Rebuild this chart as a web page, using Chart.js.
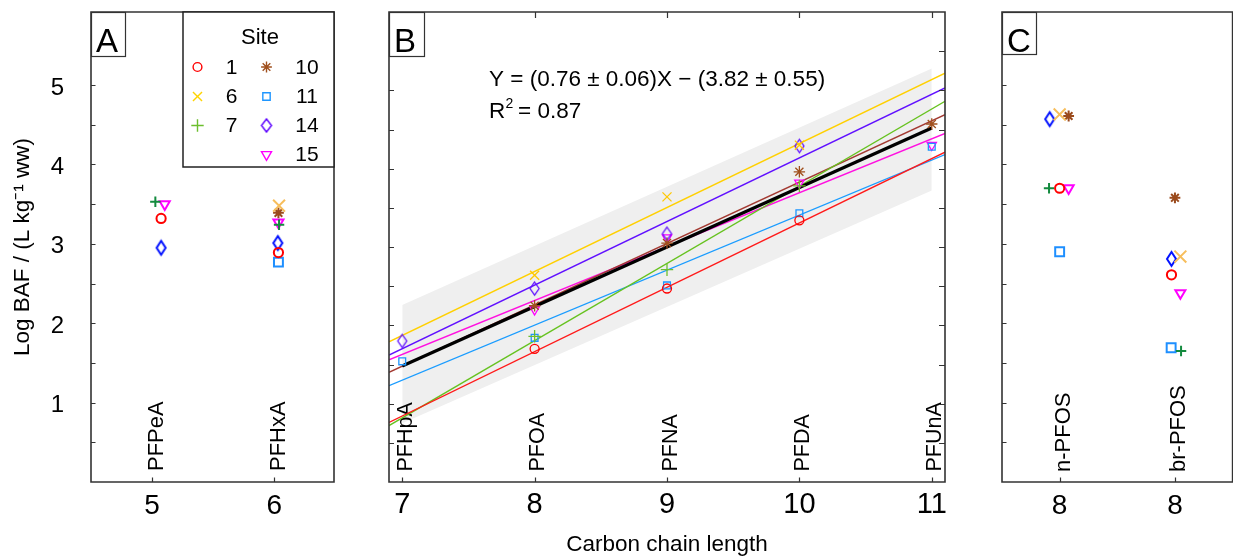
<!DOCTYPE html>
<html>
<head>
<meta charset="utf-8">
<title>Log BAF vs carbon chain length</title>
<script src="https://cdn.jsdelivr.net/npm/chart.js@4/dist/chart.umd.min.js"></script>
<style>
  html, body { margin:0; padding:0; background:#fff; }
  body { position:relative; width:1233px; height:558px; overflow:hidden; }
  canvas { position:absolute; top:0; display:block; }
  #chartA { left:0; }
  #chartB { left:345px; }
  #chartC { left:990px; }
</style>
</head>
<body>
<canvas id="chartA" width="345" height="558"></canvas>
<canvas id="chartB" width="615" height="558"></canvas>
<canvas id="chartC" width="253" height="558"></canvas>
<script>
// ================= DATA =================
const siteLabels = ['1', '6', '7', '10', '11', '14', '15'];
const yTickLabelValues = [1, 2, 3, 4, 5];
const yMinorTickValues = [0.5, 1, 1.5, 2, 2.5, 3, 3.5, 4, 4.5, 5, 5.5];
const yTitle = 'Log BAF / (L kg⁻¹ ww)';

// Panel A: short-chain PFCAs (values per site, in siteLabels order; null = not shown)
const aTickValues = [5, 6];
const aTickLabels = ['5', '6'];
const aCompounds = ['PFPeA', 'PFHxA'];
const aPFPeA_y = [3.32, null, 3.53, null, null, 2.95, 3.50];
const aPFPeA_x = [5.074, null, 5.027, null, null, 5.074, 5.104];
const aPFHxA_y = [2.89, 3.48, 3.24, 3.39, 2.77, 3.01, 3.27];
const aPFHxA_x = [6.035, 6.04, 6.04, 6.035, 6.035, 6.03, 6.035];

// Panel B: long-chain PFCAs (values per compound, in bTickValues order)
const bTickValues = [7, 8, 9, 10, 11];
const bTickLabels = ['7', '8', '9', '10', '11'];
const bCompounds = ['PFHpA', 'PFOA', 'PFNA', 'PFDA', 'PFUnA'];
const bSite1  = [null, 1.70, 2.47, 3.34, null];
const bSite6  = [null, 2.64, 3.64, 4.30, null];
const bSite7  = [null, 1.86, 2.71, 3.78, null];
const bSite10 = [null, 2.25, 3.05, 3.96, 4.57];
const bSite11 = [1.54, 1.84, 2.51, 3.43, 4.28];
const bSite14 = [1.80, 2.47, 3.17, 4.29, null];
const bSite15 = [null, 2.20, 3.12, 3.82, 4.30];
// per-site regression lines: values at x = bLineX[0] and x = bLineX[1]
const bLineX  = [6.9, 11.1];
const bLine1  = [0.76, 4.21];
const bLine6  = [1.79, 5.22];
const bLine7  = [0.72, 4.86];
const bLine10 = [1.40, 4.69];
const bLine11 = [1.23, 4.18];
const bLine14 = [1.62, 5.03];
const bLine15 = [1.56, 4.45];
// pooled regression and its band
const bPooledX   = [7, 11];
const bPooledFit = [1.48, 4.52];
const bBandLow   = [0.75, 3.72];
const bBandHigh  = [2.26, 5.28];
const bEquation  = 'Y = (0.76 ± 0.06)X − (3.82 ± 0.55)';
const bR2        = '0.87';
const xTitleB    = 'Carbon chain length';

// Panel C: PFOS isomers (values per site, in siteLabels order)
const cTickValues = [0, 1];
const cTickLabels = ['8', '8'];
const cCompounds = ['n-PFOS', 'br-PFOS'];
const cN_y  = [3.70, 4.63, 3.70, 4.61, 2.90, 4.57, 3.70];
const cN_x  = [0, 0, -0.092, 0.078, 0, -0.086, 0.078];
const cBr_y = [2.61, 2.84, 1.65, 3.58, 1.69, 2.81, 2.38];
const cBr_x = [0.97, 1.047, 1.053, 1.0, 0.967, 0.97, 1.047];

// ================= STYLE =================
const FONT = "'Liberation Sans', Arial, Helvetica, sans-serif";
const NARROW = "'Liberation Sans Narrow', 'Liberation Sans', Arial, sans-serif";
Chart.defaults.font.family = FONT;
Chart.defaults.color = '#000';
Chart.defaults.animation = false;

const legendColors = ['#ff0000', '#ffd400', '#6cbf2e', '#a0501e', '#1e96ff', '#5b00ff', '#ff00ff'];
const bPointColors = ['#ff0000', '#ffc800', '#6cbf2e', '#a0501e', '#1e96ff', '#6010ff', '#ff00ff'];
const bLineColors  = ['#ff1a1a', '#ffd000', '#66c21f', '#a33a32', '#1a9cff', '#6010ff', '#ff10e0'];
const acColors     = ['#ff0000', '#f7be5c', '#138a3e', '#9a4a1c', '#1e8fff', '#0010ff', '#ff00ff'];
const shapes = ['circle', 'crossRot', 'cross', 'star', 'rect', 'diamond', 'triangle'];

function diamondImg(w, h, color, lw) {
  const c = document.createElement('canvas');
  const pad = Math.ceil(lw) + 1;
  c.width = Math.round(w + 2 * pad); c.height = Math.round(h + 2 * pad);
  const g = c.getContext('2d');
  g.strokeStyle = color; g.lineWidth = lw; g.lineJoin = 'miter';
  g.beginPath();
  g.moveTo(c.width / 2, pad); g.lineTo(c.width - pad, c.height / 2);
  g.lineTo(c.width / 2, c.height - pad); g.lineTo(pad, c.height / 2);
  g.closePath(); g.stroke();
  return c;
}

const sizeAC = {circle: 4.6, crossRot: 8.4, cross: 5.2, star: 5.4, rect: 6.3, diamond: [9, 14], triangle: 5.8, bw: 2};
const sizeB  = {circle: 4.5, crossRot: 6.4, cross: 6.2, star: 5.7, rect: 4.8, diamond: [9, 13], triangle: 5.4, bw: 1.3};
const sizeL  = {circle: 4.4, crossRot: 6.4, cross: 6.2, star: 5.4, rect: 5.2, diamond: [9.5, 13], triangle: 5.8, bw: 1.4};

function marker(i, color, sz) {
  const s = shapes[i];
  if (s === 'diamond') return {style: diamondImg(sz.diamond[0], sz.diamond[1], color, sz.bw), r: 6, rot: 0, color, bw: sz.bw};
  if (s === 'triangle') return {style: 'triangle', r: sz.triangle, rot: 180, color, bw: sz.bw};
  return {style: s, r: sz[s], rot: 0, color, bw: sz.bw};
}

function pointDataset(xs, ys, m) {
  const data = [];
  xs.forEach((x, k) => { if (x != null && ys[k] != null) data.push({x: x, y: ys[k]}); });
  return {
    type: 'scatter', data, showLine: false,
    pointStyle: m.style, pointRadius: m.r, pointHoverRadius: m.r, pointRotation: m.rot,
    pointBorderColor: m.color, borderColor: m.color, pointBackgroundColor: 'rgba(0,0,0,0)',
    backgroundColor: 'rgba(0,0,0,0)', pointBorderWidth: m.bw, borderWidth: m.bw, order: 0
  };
}

function lineDataset(xs, ys, color, width, order, extra) {
  return Object.assign({
    type: 'line', data: [{x: xs[0], y: ys[0]}, {x: xs[1], y: ys[1]}],
    borderColor: color, borderWidth: width, pointRadius: 0, pointHoverRadius: 0,
    fill: false, tension: 0, order: order
  }, extra || {});
}

// ---------- drawing helpers (all positions from the chart's scales) ----------
function drawFrame(ctx, a, sides) {
  ctx.save(); ctx.strokeStyle = '#333'; ctx.lineWidth = 1.6; ctx.lineCap = 'square';
  ctx.beginPath();
  if (sides.includes('l')) { ctx.moveTo(a.left, a.top); ctx.lineTo(a.left, a.bottom); }
  if (sides.includes('r')) { ctx.moveTo(a.right, a.top); ctx.lineTo(a.right, a.bottom); }
  if (sides.includes('t')) { ctx.moveTo(a.left, a.top); ctx.lineTo(a.right, a.top); }
  if (sides.includes('b')) { ctx.moveTo(a.left, a.bottom); ctx.lineTo(a.right, a.bottom); }
  ctx.stroke(); ctx.restore();
}
function drawYTicks(chart, values, side, len) {
  const ctx = chart.ctx, ys = chart.scales.y, a = chart.chartArea;
  ctx.save(); ctx.strokeStyle = '#333'; ctx.lineWidth = 1.2; ctx.beginPath();
  values.forEach(v => {
    const y = Math.round(ys.getPixelForValue(v)) + 0.5;
    if (side === 'l') { ctx.moveTo(a.left, y); ctx.lineTo(a.left + len, y); }
    else { ctx.moveTo(a.right, y); ctx.lineTo(a.right - len, y); }
  });
  ctx.stroke(); ctx.restore();
}
function drawXTicks(chart, values, side, len) {
  const ctx = chart.ctx, xs = chart.scales.x, a = chart.chartArea;
  ctx.save(); ctx.strokeStyle = '#333'; ctx.lineWidth = 1.2; ctx.beginPath();
  values.forEach(v => {
    const x = Math.round(xs.getPixelForValue(v)) + 0.5;
    if (side === 'b') { ctx.moveTo(x, a.bottom); ctx.lineTo(x, a.bottom - len); }
    else { ctx.moveTo(x, a.top); ctx.lineTo(x, a.top + len); }
  });
  ctx.stroke(); ctx.restore();
}
function drawVLabels(chart, values, labels, size, dx, bottomY) {
  const ctx = chart.ctx, xs = chart.scales.x;
  ctx.save(); ctx.fillStyle = '#000'; ctx.font = size + 'px ' + FONT;
  ctx.textAlign = 'left'; ctx.textBaseline = 'alphabetic';
  values.forEach((v, i) => {
    ctx.save();
    ctx.translate(xs.getPixelForValue(v) + dx, bottomY);
    ctx.rotate(-Math.PI / 2);
    ctx.fillText(labels[i], 0, 0);
    ctx.restore();
  });
  ctx.restore();
}
function drawTag(ctx, letter, x0, y0, w, h) {
  ctx.save();
  ctx.fillStyle = '#fff'; ctx.fillRect(x0, y0, w, h);
  ctx.strokeStyle = '#333'; ctx.lineWidth = 1.2; ctx.strokeRect(x0 + 0.5, y0 + 0.5, w, h);
  ctx.fillStyle = '#000'; ctx.font = '33px ' + FONT; ctx.textBaseline = 'alphabetic'; ctx.textAlign = 'left';
  ctx.fillText(letter, x0 + 5, y0 + 39.5);
  ctx.restore();
}
function drawMarker(ctx, m, x, y) {
  ctx.save();
  ctx.strokeStyle = m.color; ctx.fillStyle = 'rgba(0,0,0,0)'; ctx.lineWidth = m.bw;
  Chart.helpers.drawPoint(ctx, {pointStyle: m.style, radius: m.r, rotation: m.rot, borderWidth: m.bw}, x, y);
  ctx.restore();
}

function axisX(min, max, tickValues, tickLabels, font, pad, title) {
  const o = {
    type: 'linear', min, max,
    afterBuildTicks: s => { s.ticks = tickValues.map(v => ({value: v})); },
    ticks: {autoSkip: false, maxRotation: 0, minRotation: 0, padding: pad, font: font, color: '#000',
            callback: (v, i) => tickLabels[i]},
    grid: {display: false, drawTicks: false}, border: {display: false},
    afterFit: s => { s.height = 76; s.paddingLeft = 0; s.paddingRight = 0; s.paddingTop = 0; s.paddingBottom = 0; }
  };
  if (title) o.title = {display: true, text: title, font: {size: 22.5}, color: '#000', padding: {top: 0, bottom: 0}};
  return o;
}

const commonPlugins = {legend: {display: false}, tooltip: {enabled: false}};

// ================= PANEL A =================
const aDatasets = [];
siteLabels.forEach((s, i) => {
  const m = marker(i, acColors[i], sizeAC);
  aDatasets.push(pointDataset([aPFPeA_x[i], aPFHxA_x[i]], [aPFPeA_y[i], aPFHxA_y[i]], m));
});

const decoA = {
  id: 'decoA',
  beforeDatasetsDraw(chart) { drawVLabels(chart, aTickValues, aCompounds, 22, 10.5, 471); },
  afterDraw(chart) {
    const ctx = chart.ctx, a = chart.chartArea;
    drawYTicks(chart, yMinorTickValues, 'l', 4.5);
    drawXTicks(chart, aTickValues, 'b', 4.5);
    drawFrame(ctx, a, 'lrtb');
    drawTag(ctx, 'A', a.left, a.top, 34, 44);
    // legend
    const lx0 = 183, ly0 = a.top, lx1 = a.right, ly1 = 167;
    ctx.save();
    ctx.fillStyle = '#fff'; ctx.fillRect(lx0, ly0, lx1 - lx0, ly1 - ly0);
    ctx.strokeStyle = '#222'; ctx.lineWidth = 1.5; ctx.strokeRect(lx0, ly0, lx1 - lx0, ly1 - ly0);
    ctx.fillStyle = '#000'; ctx.font = '22px ' + FONT; ctx.textAlign = 'center'; ctx.textBaseline = 'alphabetic';
    ctx.fillText('Site', 260, 44);
    const rows = [67, 96.5, 125.5, 154.5];
    const slots = [[0, 0], [0, 1], [0, 2], [1, 0], [1, 1], [1, 2], [1, 3]];
    ctx.font = '21px ' + FONT; ctx.textBaseline = 'middle';
    siteLabels.forEach((s, i) => {
      const [col, row] = slots[i];
      const mx = col === 0 ? 197.5 : 266.5;
      const tx = col === 0 ? 231.5 : 307;
      drawMarker(ctx, marker(i, legendColors[i], sizeL), mx, rows[row]);
      ctx.fillStyle = '#000';
      ctx.fillText(s, tx, rows[row] + 1);
    });
    ctx.restore();
  }
};

new Chart(document.getElementById('chartA'), {
  type: 'scatter',
  data: {datasets: aDatasets},
  options: {
    responsive: false, devicePixelRatio: 1, animation: false,
    layout: {padding: {top: 12, right: 11, left: 0, bottom: 0}},
    plugins: commonPlugins,
    scales: {
      x: axisX(4.5, 6.49, aTickValues, aTickLabels, {size: 28}, 7.5),
      y: {
        type: 'linear', min: 0, max: 5.92,
        afterBuildTicks: s => { s.ticks = yTickLabelValues.map(v => ({value: v})); },
        ticks: {autoSkip: false, padding: 27, labelOffset: 3, font: {size: 24}, color: '#000', callback: v => String(v)},
        grid: {display: false, drawTicks: false}, border: {display: false},
        title: {display: true, text: yTitle, font: {size: 22.5}, color: '#000', padding: {top: 9.5, bottom: 0}},
        afterFit: s => { s.width = 91; s.paddingTop = 0; s.paddingBottom = 0; s.paddingLeft = 0; s.paddingRight = 0; }
      }
    }
  },
  plugins: [decoA]
});

// ================= PANEL B =================
const bSites = [bSite1, bSite6, bSite7, bSite10, bSite11, bSite14, bSite15];
const bLines = [bLine1, bLine6, bLine7, bLine10, bLine11, bLine14, bLine15];
const bDatasets = [];
siteLabels.forEach((s, i) => {
  bDatasets.push(pointDataset(bTickValues, bSites[i], marker(i, bPointColors[i], sizeB)));
});
bDatasets.push(lineDataset(bPooledX, bPooledFit, '#000', 3.2, 1));
siteLabels.forEach((s, i) => {
  bDatasets.push(lineDataset(bLineX, bLines[i], bLineColors[i], 1.4, 2));
});
const bandLowIndex = bDatasets.length;
bDatasets.push(lineDataset(bPooledX, bBandLow, 'rgba(0,0,0,0)', 0, 4));
const bandHighIndex = bDatasets.length;
bDatasets.push(lineDataset(bPooledX, bBandHigh, 'rgba(0,0,0,0)', 0, 3,
  {fill: {target: bandLowIndex}, backgroundColor: '#efefef'}));

const decoB = {
  id: 'decoB',
  afterDatasetDraw(chart, args) {
    if (args.index === bandHighIndex) drawVLabels(chart, bTickValues, bCompounds, 21.5, 9.5, 471.5);
  },
  afterDraw(chart) {
    const ctx = chart.ctx, a = chart.chartArea;
    drawYTicks(chart, yMinorTickValues, 'l', 5);
    drawYTicks(chart, yMinorTickValues, 'r', 6);
    drawXTicks(chart, bTickValues, 'b', 4.5);
    drawXTicks(chart, bTickValues, 't', 6);
    drawFrame(ctx, a, 'lrtb');
    drawTag(ctx, 'B', a.left, a.top, 35, 44);
    ctx.save();
    ctx.fillStyle = '#000'; ctx.textAlign = 'left'; ctx.textBaseline = 'alphabetic';
    const x0 = a.left + 100;
    ctx.font = '22.5px ' + FONT;
    ctx.fillText(bEquation, x0, 86);
    ctx.fillText('R', x0, 117.5);
    ctx.font = '14px ' + FONT;
    ctx.fillText('2', x0 + 16.5, 108);
    ctx.font = '22.5px ' + FONT;
    ctx.fillText('= ' + bR2, x0 + 29, 117.5);
    ctx.restore();
  }
};

new Chart(document.getElementById('chartB'), {
  type: 'scatter',
  data: {datasets: bDatasets},
  options: {
    responsive: false, devicePixelRatio: 1, animation: false,
    layout: {padding: {top: 12, right: 15, left: 44, bottom: 0}},
    plugins: Object.assign({filler: {propagate: false}}, commonPlugins),
    scales: {
      x: axisX(6.9, 11.1, bTickValues, bTickLabels, {size: 29, family: NARROW}, 5.5, xTitleB),
      y: {type: 'linear', display: false, min: 0, max: 6}
    }
  },
  plugins: [decoB]
});

// ================= PANEL C =================
const cDatasets = [];
siteLabels.forEach((s, i) => {
  cDatasets.push(pointDataset([cN_x[i], cBr_x[i]], [cN_y[i], cBr_y[i]], marker(i, acColors[i], sizeAC)));
});

const decoC = {
  id: 'decoC',
  beforeDatasetsDraw(chart) { drawVLabels(chart, cTickValues, cCompounds, 22, 10.5, 472); },
  afterDraw(chart) {
    const ctx = chart.ctx, a = chart.chartArea;
    drawYTicks(chart, yMinorTickValues, 'l', 4.5);
    drawXTicks(chart, cTickValues, 'b', 4.5);
    drawFrame(ctx, a, 'lrtb');
    drawTag(ctx, 'C', a.left, a.top, 34, 42);
  }
};

new Chart(document.getElementById('chartC'), {
  type: 'scatter',
  data: {datasets: cDatasets},
  options: {
    responsive: false, devicePixelRatio: 1, animation: false,
    layout: {padding: {top: 12, right: 1, left: 12, bottom: 0}},
    plugins: commonPlugins,
    scales: {
      x: axisX(-0.5, 1.5, cTickValues, cTickLabels, {size: 28}, 7.5),
      y: {type: 'linear', display: false, min: 0, max: 5.92}
    }
  },
  plugins: [decoC]
});
</script>
</body>
</html>
